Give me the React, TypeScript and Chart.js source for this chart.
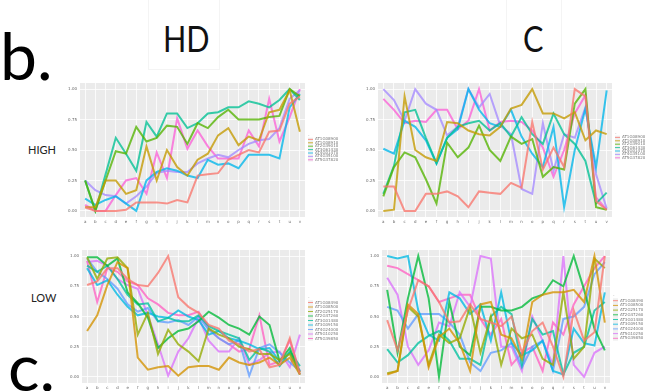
import React, { useEffect, useRef } from "react";
import { Chart, registerables } from "chart.js";
Chart.register(...registerables);

const categories = ["a","b","c","d","e","f","g","h","i","j","k","l","m","n","o","p","q","r","s","t","u","v"];
const yTicks = [0, 0.25, 0.5, 0.75, 1];

const hue7 = ["#F8766D","#C49A00","#53B400","#00C094","#00B6EB","#A58AFF","#FB61D7"];
const hue9 = ["#F8766D","#D39200","#93AA00","#00BA38","#00C19F","#00B9E3","#619CFF","#DB72FB","#FF61C3"];

// HD / HIGH
const hdHighGenes = ["AT1G08900","AT1G08910","AT2G39010","AT3G61430","AT4G01470","AT4G35100","AT5G37820"];
const hdHighSeries = [
  [0.03,0.00,0.00,0.00,0.01,0.07,0.07,0.07,0.06,0.09,0.07,0.29,0.30,0.31,0.42,0.46,0.50,0.48,0.65,0.66,0.88,0.94],
  [0.03,0.03,0.25,0.25,0.14,0.17,0.53,0.25,0.50,0.36,0.29,0.42,0.47,0.62,0.68,0.54,0.61,0.58,0.81,0.83,0.99,0.65],
  [0.25,0.00,0.25,0.49,0.47,0.69,0.57,0.60,0.70,0.69,0.55,0.72,0.68,0.77,0.83,0.75,0.75,0.75,0.77,0.78,1.00,0.94],
  [0.25,0.00,0.30,0.60,0.47,0.33,0.73,0.61,0.80,0.80,0.68,0.72,0.80,0.81,0.85,0.85,0.90,0.88,0.85,0.91,1.00,0.91],
  [0.10,0.05,0.09,0.12,0.06,0.00,0.25,0.32,0.35,0.33,0.29,0.27,0.42,0.38,0.39,0.35,0.46,0.46,0.46,0.43,0.85,0.96],
  [0.25,0.17,0.13,0.12,0.06,0.12,0.20,0.31,0.33,0.32,0.32,0.39,0.43,0.46,0.44,0.50,0.55,0.58,0.59,0.68,0.92,0.99],
  [0.05,0.00,0.00,0.13,0.25,0.27,0.14,0.48,0.27,0.76,0.51,0.66,0.53,0.43,0.43,0.43,0.66,0.53,0.92,0.57,0.77,1.00],
];

// C / HIGH
const cHighGenes = ["AT1G08900","AT1G08910","AT2G39010","AT3G61430","AT4G01470","AT4G35100","AT5G37820"];
const cHighSeries = [
  [0.20,0.20,0.00,0.00,0.14,0.14,0.16,0.12,0.03,0.16,0.15,0.14,0.23,0.19,0.73,0.34,0.52,0.36,1.00,0.94,0.08,0.01],
  [0.00,0.01,0.94,0.50,0.44,0.41,0.73,0.72,0.66,0.63,0.62,0.69,0.84,0.87,1.00,0.80,0.80,0.76,0.81,0.58,0.66,0.63],
  [0.12,0.36,0.48,0.44,0.26,0.06,0.56,0.44,0.52,0.70,0.50,0.41,0.61,0.55,0.59,0.28,0.36,0.34,0.88,1.00,0.03,0.01],
  [0.14,0.37,0.81,0.83,0.60,0.39,0.60,0.69,0.72,0.74,0.66,0.72,0.61,0.77,0.63,0.55,0.80,0.63,0.55,0.41,0.06,0.15],
  [0.51,0.47,0.74,0.69,0.58,0.39,0.60,0.67,1.00,0.83,0.72,0.69,0.83,0.61,0.47,0.36,0.69,0.03,0.50,0.84,0.36,0.99],
  [1.00,0.91,0.74,1.00,0.88,0.83,0.62,0.69,1.00,0.85,0.96,0.70,0.63,0.18,0.14,0.72,0.33,0.63,0.60,0.85,0.30,0.02],
  [0.92,0.83,0.72,0.74,0.73,0.83,0.83,0.67,0.74,1.00,0.66,0.73,0.74,0.73,0.66,0.52,0.28,0.50,0.80,0.95,0.11,0.01],
];

// HD / LOW
const hdLowGenes = ["AT1G08490","AT1G08500","AT2G25170","AT2G47260","AT3G01480","AT3G09150","AT4G24000","AT5G10250","AT5G39850"];
const hdLowSeries = [
  [0.76,0.79,0.90,0.90,0.81,0.76,0.75,0.86,1.00,0.66,0.58,0.53,0.43,0.40,0.30,0.27,0.21,0.23,0.08,0.10,0.32,0.02],
  [0.38,0.51,0.76,0.95,0.90,0.16,0.06,0.08,0.09,0.01,0.08,0.09,0.09,0.06,0.16,0.12,0.10,0.12,0.16,0.10,0.16,0.02],
  [0.99,0.81,0.98,0.99,0.90,0.35,0.53,0.19,0.39,0.27,0.21,0.13,0.40,0.35,0.32,0.25,0.23,0.19,0.19,0.14,0.19,0.04],
  [0.99,0.99,0.92,0.98,0.70,0.61,0.49,0.24,0.32,0.38,0.40,0.46,0.54,0.49,0.43,0.40,0.35,0.50,0.43,0.13,0.24,0.02],
  [0.92,0.87,0.92,0.81,0.68,0.60,0.61,0.46,0.49,0.46,0.46,0.51,0.42,0.38,0.35,0.32,0.14,0.24,0.21,0.09,0.21,0.09],
  [0.90,0.76,0.80,0.68,0.58,0.51,0.53,0.50,0.49,0.55,0.50,0.47,0.35,0.38,0.32,0.30,0.27,0.23,0.24,0.13,0.20,0.05],
  [0.98,0.87,0.81,0.73,0.60,0.54,0.57,0.46,0.45,0.47,0.43,0.50,0.39,0.32,0.27,0.30,0.01,0.24,0.27,0.20,0.12,0.05],
  [0.95,0.96,0.92,0.81,0.76,0.73,0.51,0.27,0.01,0.21,0.32,0.49,0.30,0.21,0.21,0.32,0.10,0.14,0.20,0.21,0.08,0.35],
  [0.96,0.62,0.90,0.87,0.79,0.76,0.65,0.60,0.53,0.51,0.51,0.54,0.40,0.32,0.27,0.21,0.23,0.51,0.10,0.13,0.30,0.04],
];

// C / LOW
const cLowGenes = ["AT1G08490","AT1G08500","AT2G25170","AT2G47260","AT3G01480","AT3G09150","AT4G24000","AT5G10250","AT5G39850"];
const cLowSeries = [
  [0.47,0.22,0.55,0.80,0.75,0.62,0.45,0.46,0.60,0.48,0.45,0.42,0.50,0.20,0.38,0.45,0.25,0.00,0.55,0.30,0.37,1.00],
  [0.02,0.05,0.60,0.52,0.08,0.33,0.40,0.28,0.05,0.60,0.62,0.35,0.32,0.15,0.62,0.68,0.70,0.70,0.72,0.62,1.00,0.45],
  [0.03,0.05,0.58,0.50,0.10,0.35,0.28,0.32,0.58,0.20,0.50,0.10,0.40,0.32,0.35,0.15,0.10,0.70,0.15,0.25,0.98,0.90],
  [0.72,0.20,0.65,1.00,0.65,0.00,0.62,0.25,0.18,0.58,0.58,0.55,0.55,0.58,0.65,0.68,0.80,0.75,1.00,0.72,0.40,0.22],
  [0.23,0.12,0.18,0.28,0.34,0.38,0.30,0.15,0.15,0.10,0.50,0.58,0.52,0.10,0.48,0.35,0.38,0.02,0.20,0.25,0.55,0.62],
  [1.00,0.98,1.00,0.55,0.35,0.30,0.70,0.65,0.52,0.60,0.30,0.70,0.28,0.18,0.22,0.30,0.05,0.02,0.40,0.28,0.26,0.70],
  [0.58,0.55,0.40,0.52,0.52,0.52,0.45,0.35,0.12,0.05,0.20,0.22,0.28,0.08,0.25,0.30,0.05,0.48,0.50,0.58,0.85,0.95],
  [0.82,0.68,0.25,0.10,0.22,0.45,0.42,0.70,0.58,1.00,0.98,0.25,0.25,0.05,0.50,0.30,0.10,1.00,0.10,0.00,0.20,0.25],
  [0.92,0.90,0.85,0.80,0.75,0.62,0.65,0.68,0.68,0.48,0.35,0.48,0.10,0.20,0.25,0.05,0.45,0.35,0.60,0.75,0.90,1.00],
];

const YAXIS_W = 25;
const PAD_TOP = 8;
const XAXIS_H = 12;

type PanelProps = {
  plot: { l: number; r: number; t: number; b: number };
  legendW: number;
  legendTop: number;
  rowH: number;
  genes: string[];
  series: number[][];
  colors: string[];
};

function hexA(hex: string, a: number) {
  const n = parseInt(hex.slice(1), 16);
  return `rgba(${(n >> 16) & 255},${(n >> 8) & 255},${n & 255},${a})`;
}

function Panel({ plot, legendW, legendTop, rowH, genes, series, colors }: PanelProps) {
  const ref = useRef<HTMLCanvasElement>(null);
  const left = plot.l - YAXIS_W;
  const top = plot.t - PAD_TOP;
  const width = plot.r + legendW - left;
  const height = plot.b + XAXIS_H - top;

  useEffect(() => {
    const bg = {
      id: "bg",
      beforeDraw(chart: any) {
        const { ctx, chartArea: a } = chart;
        ctx.save();
        ctx.fillStyle = "#EBEBEB";
        ctx.fillRect(a.left, a.top, a.right - a.left, a.bottom - a.top);
        ctx.restore();
      },
    };
    const legend = {
      id: "ggLegend",
      afterDraw(chart: any) {
        const { ctx, chartArea: a } = chart;
        const x0 = a.right + 3;
        const y0 = legendTop - top;
        ctx.save();
        ctx.font = "4px 'DejaVu Sans'";
        ctx.textBaseline = "middle";
        ctx.fillStyle = "#888";
        ctx.fillText("-", x0, y0);
        chart.data.datasets.forEach((ds: any, i: number) => {
          const y = y0 + (i + 1) * rowH;
          ctx.fillStyle = "#EFEFEF";
          ctx.fillRect(x0, y - rowH / 2, 5, rowH);
          ctx.strokeStyle = ds.borderColor;
          ctx.lineWidth = 1;
          ctx.beginPath();
          ctx.moveTo(x0, y);
          ctx.lineTo(x0 + 5, y);
          ctx.stroke();
          ctx.fillStyle = "#777";
          ctx.fillText(ds.label, x0 + 7, y);
        });
        ctx.restore();
      },
    };
    const chart = new Chart(ref.current as HTMLCanvasElement, {
      type: "line",
      data: {
        labels: categories,
        datasets: series.map((s, i) => ({
          label: genes[i],
          data: s,
          borderColor: hexA(colors[i], 0.78),
          borderWidth: 2,
          pointRadius: 0,
          tension: 0,
          fill: false,
        })),
      },
      options: {
        responsive: false,
        animation: false,
        devicePixelRatio: 1,
        layout: { padding: { top: PAD_TOP, right: legendW, left: 0, bottom: 0 } },
        plugins: { legend: { display: false }, tooltip: { enabled: false } },
        scales: {
          x: {
            type: "category",
            offset: true,
            grid: { color: "#FFFFFF", lineWidth: 0.8, offset: false, drawTicks: false },
            border: { display: false },
            ticks: { font: { size: 4, family: "DejaVu Sans" }, color: "#666", padding: 3, maxRotation: 0, autoSkip: false },
            afterFit: (s: any) => { s.height = XAXIS_H; },
          },
          y: {
            min: -0.05,
            max: 1.05,
            grid: { color: "#FFFFFF", lineWidth: 0.8, drawTicks: false },
            border: { display: false },
            afterBuildTicks: (s: any) => { s.ticks = yTicks.map((v) => ({ value: v })); },
            ticks: { font: { size: 4, family: "DejaVu Sans" }, color: "#666", padding: 3, callback: (v: any) => Number(v).toFixed(2) },
            afterFit: (s: any) => { s.width = YAXIS_W; },
          },
        },
      },
      plugins: [bg, legend],
    } as any);
    return () => chart.destroy();
  }, []);

  return (
    <canvas
      ref={ref}
      width={width}
      height={height}
      style={{ position: "absolute", left, top, width, height }}
    />
  );
}

const labelFont = "Lato, 'Open Sans', sans-serif";

export default function App() {
  return (
    <div style={{ position: "absolute", left: 0, top: 0, width: 645, height: 391, overflow: "hidden", background: "#fff" }}>
      <div style={{ position: "absolute", left: 0, top: 22, fontFamily: labelFont, fontSize: 66, lineHeight: 1, color: "#000" }}>b.</div>
      <div style={{ position: "absolute", left: 8, top: 333, fontFamily: labelFont, fontSize: 66, lineHeight: 1, color: "#000" }}>c.</div>
      <div style={{ position: "absolute", left: 148, top: -2, width: 72, height: 72, border: "1px solid #F4F4F4", boxSizing: "border-box" }} />
      <div style={{ position: "absolute", left: 506, top: -2, width: 56, height: 72, border: "1px solid #F4F4F4", boxSizing: "border-box" }} />
      <div style={{ position: "absolute", left: 163, top: 20, fontFamily: labelFont, fontSize: 36, lineHeight: 1, color: "#111", transform: "scaleX(0.85)", transformOrigin: "left top" }}>HD</div>
      <div style={{ position: "absolute", left: 523, top: 20, fontFamily: labelFont, fontSize: 36, lineHeight: 1, color: "#111", transform: "scaleX(0.85)", transformOrigin: "left top" }}>C</div>
      <div style={{ position: "absolute", left: 28, top: 144, fontFamily: labelFont, fontSize: 11, lineHeight: 1, color: "#222" }}>HIGH</div>
      <div style={{ position: "absolute", left: 31, top: 292, fontFamily: labelFont, fontSize: 11, lineHeight: 1, color: "#222" }}>LOW</div>
      <Panel plot={{ l: 80, r: 305, t: 83, b: 217 }} legendW={40} legendTop={136} rowH={3.4} genes={hdHighGenes} series={hdHighSeries} colors={hue7} />
      <Panel plot={{ l: 378, r: 612, t: 83, b: 217 }} legendW={33} legendTop={134} rowH={3.4} genes={cHighGenes} series={cHighSeries} colors={hue7} />
      <Panel plot={{ l: 82, r: 305, t: 250, b: 383 }} legendW={40} legendTop={298} rowH={4.5} genes={hdLowGenes} series={hdLowSeries} colors={hue9} />
      <Panel plot={{ l: 382, r: 610, t: 250, b: 383 }} legendW={35} legendTop={296} rowH={4.7} genes={cLowGenes} series={cLowSeries} colors={hue9} />
    </div>
  );
}
